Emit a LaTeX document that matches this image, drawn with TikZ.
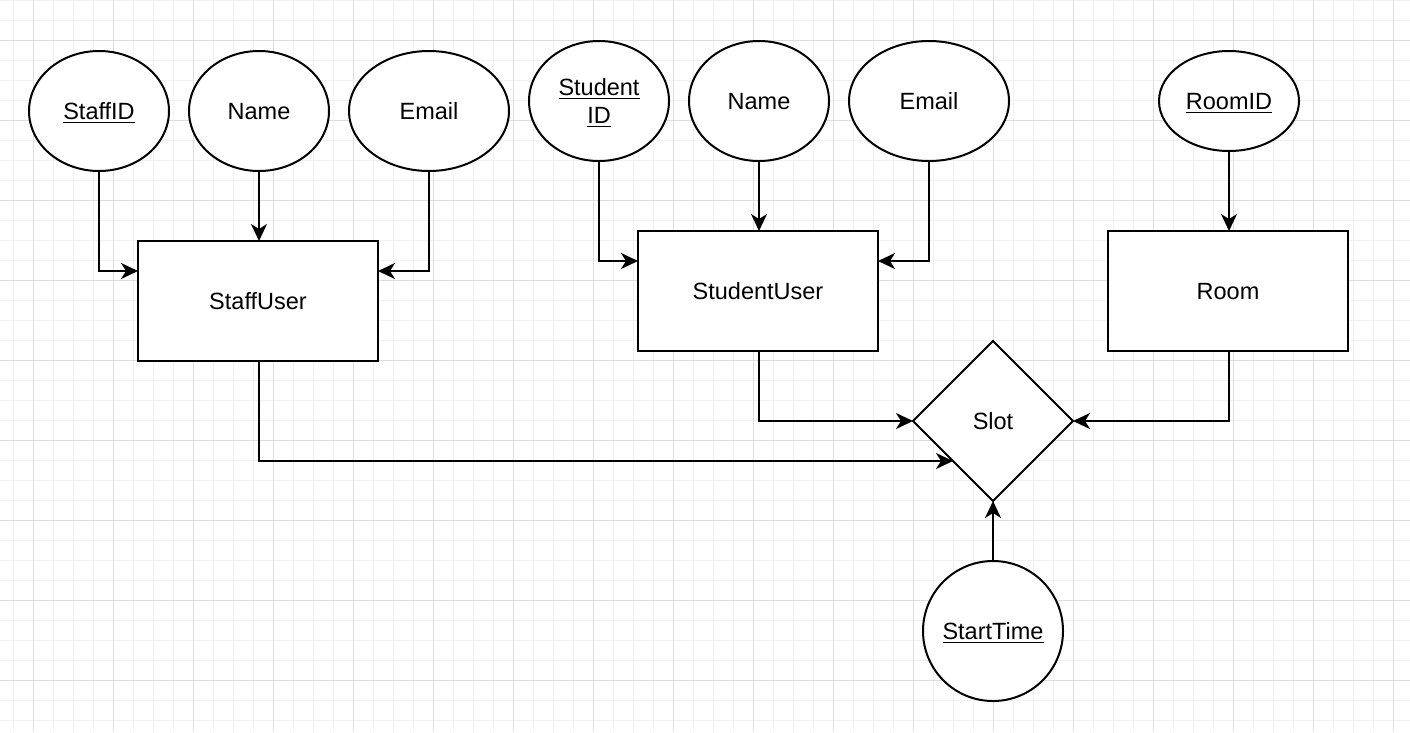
\documentclass[tikz,border=0pt]{standalone}
\usepackage{fontspec}
\setmainfont{Liberation Sans}
\usetikzlibrary{shapes.geometric,arrows.meta}
\newcommand{\myul}[1]{\setbox0\hbox{#1}\rlap{\rule[-4pt]{\wd0}{1.8pt}}\box0}
\definecolor{gridmajor}{HTML}{DDDDDD}
\definecolor{gridminor}{HTML}{F1F1F1}
\begin{document}
\begin{tikzpicture}[x=1pt,y=-1pt,
  font=\fontsize{23.5}{28}\selectfont,
  base/.style={draw=black,line width=2pt,fill=white,inner sep=0pt,outer sep=0pt,text height=16.8pt,text depth=0pt},
  attr/.style={base,ellipse,minimum width=140pt,minimum height=120pt},
  wattr/.style={attr,minimum width=160pt},
  ent/.style={base,rectangle,minimum width=240pt,minimum height=120pt},
  rel/.style={base,diamond,minimum width=160pt,minimum height=160pt,aspect=1},
  conn/.style={line width=2pt,-{Stealth[length=17pt,width=16pt,inset=5pt]}}
]
\useasboundingbox (0,0) rectangle (1410,732);
\fill[white] (0,0) rectangle (1410,732);
% grid
\foreach \x in {13,33,...,1410} \draw[gridminor,line width=1pt] (\x,0) -- (\x,732);
\foreach \y in {0,20,...,732} \draw[gridminor,line width=1pt] (0,\y) -- (1410,\y);
\foreach \x in {33,113,...,1410} \draw[gridmajor,line width=1pt] (\x,0) -- (\x,732);
\foreach \y in {40,120,...,732} \draw[gridmajor,line width=1pt] (0,\y) -- (1410,\y);

% Staff
\node[attr] (staffid) at (99,111) {\myul{StaffID}};
\node[attr] (staffname) at (259,111) {Name};
\node[wattr] (staffemail) at (429,111) {Email};
\node[ent] (staff) at (258,301) {StaffUser};

% Student
\node[attr,align=center,text height=44.8pt] (studid) at (599,101) {\myul{Student}\\\myul{ID}};
\node[attr] (studname) at (759,101) {Name};
\node[wattr] (studemail) at (929,101) {Email};
\node[ent] (student) at (758,291) {StudentUser};

% Room
\node[attr,minimum height=100pt] (roomid) at (1229,101) {\myul{RoomID}};
\node[ent] (room) at (1228,291) {Room};

% Slot
\node[rel] (slot) at (993,421) {Slot};
\node[base,circle,minimum size=140pt] (start) at (993,631) {\myul{StartTime}};

% connectors
\draw[conn] (staffid.south) |- ([yshift=30pt]staff.west);
\draw[conn] (staffname.south) -- (staffname.south|-staff.north);
\draw[conn] (staffemail.south) |- ([yshift=30pt]staff.east);
\draw[conn] (studid.south) |- ([yshift=30pt]student.west);
\draw[conn] (studname.south) -- (studname.south|-student.north);
\draw[conn] (studemail.south) |- ([yshift=30pt]student.east);
\draw[conn] (roomid.south) -- ([xshift=1pt]room.north);
\draw[conn] ([xshift=1pt]student.south) |- (slot.west);
\draw[conn] ([xshift=1pt]room.south) |- (slot.east);
\draw[conn] ([xshift=1pt]staff.south) |- (slot.south west);
\draw[conn] (start.north) -- (slot.south);
\end{tikzpicture}
\end{document}
